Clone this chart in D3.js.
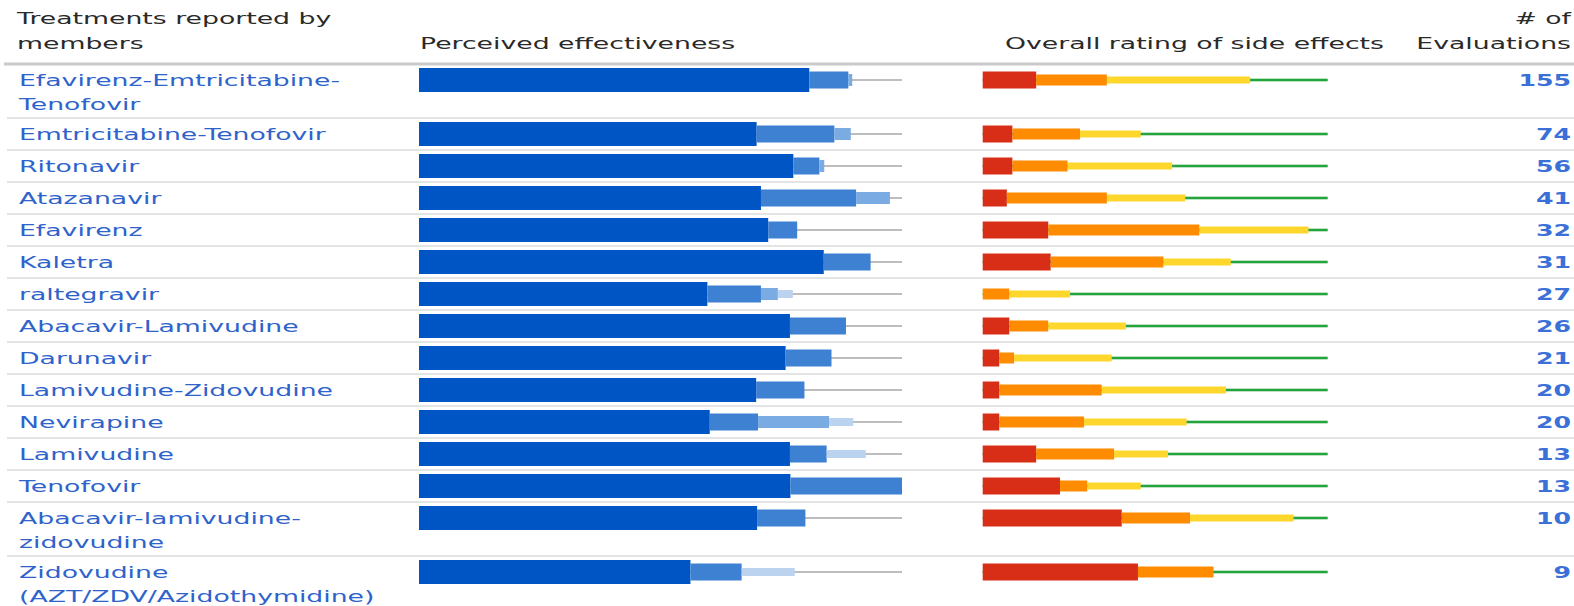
<!DOCTYPE html>
<html lang="en">
<head>
    <meta charset="UTF-8">
    <title>Treatments reported by members</title>
    <script src="https://d3js.org/d3.v7.min.js"></script>
    <style>
        html, body {
            margin: 0;
            padding: 0;
            background: #fff;
        }
        svg text {
            font-family: "DejaVu Sans", Verdana, sans-serif;
            font-size: 15px;
        }
    </style>
</head>
<body>
    <svg id="chart"></svg>

    <script>
        // data
        const treatments = [
            ["Efavirenz-Emtricitabine-", "Tenofovir"],
            ["Emtricitabine-Tenofovir"],
            ["Ritonavir"],
            ["Atazanavir"],
            ["Efavirenz"],
            ["Kaletra"],
            ["raltegravir"],
            ["Abacavir-Lamivudine"],
            ["Darunavir"],
            ["Lamivudine-Zidovudine"],
            ["Nevirapine"],
            ["Lamivudine"],
            ["Tenofovir"],
            ["Abacavir-lamivudine-", "zidovudine"],
            ["Zidovudine", "(AZT/ZDV/Azidothymidine)"]
        ];

        // perceived effectiveness, % of evaluations
        const effMajor    = [80.8, 69.9, 77.5, 70.8, 72.3, 83.8, 59.7, 76.8, 75.9, 69.8, 60.2, 76.8, 76.9, 70.0, 56.2];
        const effModerate = [8.1, 16.1, 5.4, 19.7, 6.0, 9.7, 11.1, 11.6, 9.5, 10.0, 10.0, 7.6, 23.1, 10.0, 10.6];
        const effSlight   = [0.8, 3.4, 1.0, 7.0, 0, 0, 3.5, 0, 0, 0, 14.7, 0, 0, 0, 0];
        const effNone     = [0, 0, 0, 0, 0, 0, 3.1, 0, 0, 0, 5.0, 8.1, 0, 0, 11.0];

        // side effects, % of evaluations
        const sideSevere   = [15.5, 8.6, 8.6, 7.0, 19.0, 19.7, 0, 7.7, 4.8, 4.8, 4.8, 15.5, 22.4, 40.3, 45.0];
        const sideModerate = [20.5, 19.6, 16.0, 29.0, 43.8, 32.7, 7.7, 11.3, 4.3, 29.7, 24.6, 22.6, 7.9, 19.8, 21.9];
        const sideMild     = [41.5, 17.6, 30.3, 22.7, 31.6, 19.5, 17.6, 22.5, 28.3, 36.0, 29.7, 15.6, 15.5, 30.0, 0];

        const evaluations = [155, 74, 56, 41, 32, 31, 27, 26, 21, 20, 20, 13, 13, 10, 9];

        const width = 1574, height = 606;
        const SX = 1.78; // text in the reference is stretched sideways

        const effColors = ["#0055c4", "#3e80d2", "#7babe3", "#bcd3ef"];
        const effHeights = [24, 17, 12, 8];
        const sideColors = ["#d82e17", "#ff8b00", "#ffd62c"];
        const sideHeights = [17, 11, 7];

        const svg = d3.select("#chart")
            .attr("width", width)
            .attr("height", height);

        const xEff = d3.scaleLinear().domain([0, 100]).range([419, 902]);
        const xSide = d3.scaleLinear().domain([0, 100]).range([982.7, 1327.7]);

        // row tops: one-line rows are 32px, two-line rows 54px
        const headerBottom = 64;
        const rowH = treatments.map(t => t.length > 1 ? 54 : 32);
        const rowTop = [];
        rowH.reduce((acc, h) => { rowTop.push(acc); return acc + h; }, headerBottom);

        function addText(sel, x, y, str, opts = {}) {
            return sel.append("text")
                .attr("transform", `translate(${x},${y}) scale(${opts.sx || SX},1)`)
                .attr("text-anchor", opts.anchor || "start")
                .attr("fill", opts.fill || "#2a2a2a")
                .attr("font-weight", opts.weight || "normal")
                .text(str);
        }

        // header
        const head = svg.append("g");
        addText(head, 17, 24, "Treatments reported by");
        addText(head, 17, 49, "members");
        addText(head, 420, 49, "Perceived effectiveness");
        addText(head, 1005, 49, "Overall rating of side effects");
        addText(head, 1571, 24, "# of", { anchor: "end" });
        addText(head, 1571, 49, "Evaluations", { anchor: "end" });

        svg.append("line")
            .attr("x1", 4).attr("x2", width)
            .attr("y1", headerBottom).attr("y2", headerBottom)
            .attr("stroke", "#cacaca").attr("stroke-width", 3);

        const rows = svg.selectAll("g.row")
            .data(treatments)
            .join("g")
            .attr("class", "row")
            .attr("transform", (d, i) => `translate(0,${rowTop[i]})`);

        // separators under every row
        rows.filter((d, i) => i < treatments.length - 1)
            .append("line")
            .attr("x1", 7).attr("x2", width)
            .attr("y1", (d, i) => rowH[i]).attr("y2", (d, i) => rowH[i])
            .attr("stroke", "#e4e4e4").attr("stroke-width", 2);

        // labels
        rows.each(function (d, i) {
            const g = d3.select(this);
            d.forEach((line, j) => addText(g, 19, 22 + j * 24, line, { fill: "#2f63cc" }));
            addText(g, 1571, 22, evaluations[i], { anchor: "end", fill: "#3a70d8", weight: "bold", sx: 1.68 });
        });

        const mid = 16;

        // perceived effectiveness
        rows.append("rect")
            .attr("x", xEff(0)).attr("width", xEff(100) - xEff(0))
            .attr("y", mid - 1).attr("height", 2)
            .attr("fill", "#bdbdbd");

        const effSeries = [effMajor, effModerate, effSlight, effNone];
        rows.each(function (d, i) {
            const g = d3.select(this);
            let acc = 0;
            effSeries.forEach((s, k) => {
                const v = s[i];
                if (v > 0) {
                    g.append("rect")
                        .attr("x", xEff(acc))
                        .attr("width", xEff(acc + v) - xEff(acc))
                        .attr("y", mid - effHeights[k] / 2)
                        .attr("height", effHeights[k])
                        .attr("fill", effColors[k]);
                }
                acc += v;
            });
        });

        // side effects
        rows.append("rect")
            .attr("x", xSide(0)).attr("width", xSide(100) - xSide(0))
            .attr("y", mid - 1.3).attr("height", 2.6)
            .attr("fill", "#23a43c");

        const sideSeries = [sideSevere, sideModerate, sideMild];
        rows.each(function (d, i) {
            const g = d3.select(this);
            let acc = 0;
            sideSeries.forEach((s, k) => {
                const v = s[i];
                if (v > 0) {
                    g.append("rect")
                        .attr("x", xSide(acc))
                        .attr("width", xSide(acc + v) - xSide(acc))
                        .attr("y", mid - sideHeights[k] / 2)
                        .attr("height", sideHeights[k])
                        .attr("fill", sideColors[k]);
                }
                acc += v;
            });
        });
    </script>
</body>
</html>
